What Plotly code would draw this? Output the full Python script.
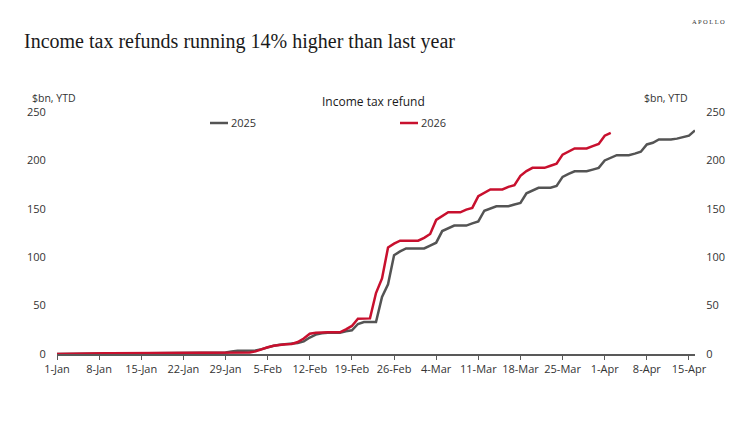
import pandas as pd
import plotly.graph_objects as go

# Cumulative income tax refunds, $bn YTD, one value per calendar day from 1-Jan
refunds_2025 = [
    0, 0.1, 0.2, 0.3, 0.4, 0.5, 0.6, 0.8, 0.8, 0.8,          # 1-Jan .. 10-Jan
    0.8, 0.8, 0.8, 0.8, 0.8, 0.8, 0.8, 0.8, 0.8, 0.8,        # .. 20-Jan
    0.8, 0.8, 0.8, 0.8, 0.8, 0.9, 1.0, 1.2, 1.5, 2.5,        # .. 30-Jan
    3.4, 3.4, 3.4, 3.6, 5, 7, 8.5, 9.6, 10, 10.3,            # .. 9-Feb
    11.4, 13, 17, 20, 21.5, 22, 22, 22, 23.5, 24.5,          # .. 19-Feb
    31, 33, 33, 33, 59, 72, 102, 106, 109, 109,              # .. 29-Feb
    109, 109, 112, 115, 127, 130, 132.7, 132.7, 132.7, 135,  # .. 10-Mar
    137, 148, 150, 152.6, 152.6, 152.6, 154.5, 156, 166, 169,  # .. 20-Mar
    171.7, 171.7, 171.7, 173.5, 183, 186, 188.8, 188.8, 188.8, 190.5,  # .. 30-Mar
    192.3, 200, 202.7, 205.4, 205.4, 205.4, 207, 209, 216.5, 218.2,  # .. 9-Apr
    221.6, 221.6, 221.6, 222.5, 224, 225.5, 231,             # .. 16-Apr
]

refunds_2026 = [
    0, 0.2, 0.3, 0.5, 0.5, 0.6, 0.7, 0.9, 0.9, 0.9,
    0.9, 0.9, 0.9, 0.9, 0.9, 0.9, 0.9, 0.9, 0.9, 0.9,
    0.9, 0.9, 0.9, 0.9, 0.9, 0.9, 0.9, 0.9, 0.9, 0.9,
    1.0, 1.0, 1.5, 2.7, 5, 7, 8.6, 9.6, 10, 10.3,
    12.4, 16, 21, 22, 22.4, 22.4, 22.4, 22.4, 25.5, 29,
    36.5, 36.8, 36.8, 63, 78, 110, 114, 117, 117, 117,
    117, 120, 124, 138.5, 142.3, 146.4, 146.4, 146.4, 149.2, 151,
    163, 166.5, 170, 170, 170, 172.7, 174.5, 184, 189, 192.3,
    192.3, 192.3, 194.5, 196.5, 206, 209.5, 212.3, 212.3, 212.3, 214.7,
    217, 225.5, 228.5,
]

# x axis labels (every 7 days, leap-year calendar as in the source chart)
tick_labels = ["1-Jan", "8-Jan", "15-Jan", "22-Jan", "29-Jan", "5-Feb", "12-Feb",
               "19-Feb", "26-Feb", "4-Mar", "11-Mar", "18-Mar", "25-Mar",
               "1-Apr", "8-Apr", "15-Apr"]
y_ticks = [0, 50, 100, 150, 200, 250]
series_names = ["2025", "2026"]

dates_2025 = pd.date_range("2024-01-01", periods=len(refunds_2025), freq="D")
dates_2026 = pd.date_range("2024-01-01", periods=len(refunds_2026), freq="D")
tick_dates = pd.date_range("2024-01-01", periods=len(tick_labels), freq="7D")

GRAY = "#545454"
RED = "#c8102e"
SANS = "Open Sans, Noto Sans, sans-serif"
AXIS_FONT = dict(family=SANS, size=11, color="#333333")
UNIT_FONT = dict(family=SANS, size=10.5, color="#333333")

# plot area in page pixels (page has an 8px body margin)
PL, PR, PT, PB = 57, 695, 112, 354
PW, PH = PR - PL, PB - PT


def px(x):
    return (x - PL) / PW


def py(y):
    return (PB - y) / PH


fig = go.Figure()
fig.add_trace(go.Scatter(x=dates_2025, y=refunds_2025, mode="lines", name=series_names[0],
                         line=dict(color=GRAY, width=2.5)))
fig.add_trace(go.Scatter(x=dates_2026, y=refunds_2026, mode="lines", name=series_names[1],
                         line=dict(color=RED, width=2.5)))
# invisible trace to carry the right-hand axis
fig.add_trace(go.Scatter(x=dates_2025, y=refunds_2025, yaxis="y2", mode="lines",
                         line=dict(width=0), showlegend=False, hoverinfo="skip"))

# legend drawn by hand: short line + label, like the source
legend_items = [(series_names[0], GRAY, 210), (series_names[1], RED, 400)]
shapes = []
annotations = []
for name, color, x0 in legend_items:
    shapes.append(dict(type="line", xref="paper", yref="paper",
                       x0=px(x0), x1=px(x0 + 18), y0=py(123), y1=py(123),
                       line=dict(color=color, width=2.5)))
    annotations.append(dict(text=name, xref="paper", yref="paper", x=px(x0 + 19), y=py(123),
                            xanchor="left", yanchor="middle", showarrow=False, font=AXIS_FONT))

annotations += [
    dict(text="Income tax refunds running 14% higher than last year",
         xref="paper", yref="paper", x=px(22), y=py(41),
         xanchor="left", yanchor="middle", showarrow=False,
         font=dict(family="Liberation Serif, serif", size=20, color="#1a1a1a")),
    dict(text="A P O L L O", xref="paper", yref="paper", x=px(727), y=py(21),
         xanchor="right", yanchor="middle", showarrow=False,
         font=dict(family="Liberation Serif, serif", size=6.5, color="#333333")),
    dict(text="Income tax refund", xref="paper", yref="paper", x=px(373), y=py(102),
         xanchor="center", yanchor="middle", showarrow=False,
         font=dict(family=SANS, size=12, color="#1a1a1a")),
    dict(text="$bn, YTD", xref="paper", yref="paper", x=px(30), y=py(98),
         xanchor="left", yanchor="middle", showarrow=False, font=UNIT_FONT),
    dict(text="$bn, YTD", xref="paper", yref="paper", x=px(690), y=py(98),
         xanchor="right", yanchor="middle", showarrow=False, font=UNIT_FONT),
]

fig.update_layout(
    width=748, height=421,
    margin=dict(l=PL - 8, r=748 + 8 - PR, t=PT - 8, b=421 + 8 - PB),
    paper_bgcolor="white", plot_bgcolor="white",
    showlegend=False,
    xaxis=dict(
        range=["2024-01-01", "2024-04-16"],
        tickvals=tick_dates, ticktext=tick_labels,
        showgrid=False, zeroline=False,
        showline=True, linecolor="#595959", linewidth=1.5,
        ticks="outside", ticklen=4, tickcolor="#595959", tickwidth=1,
        tickfont=AXIS_FONT,
    ),
    yaxis=dict(
        range=[0, 250], tickvals=y_ticks,
        showgrid=False, zeroline=False, showline=False,
        ticks="outside", ticklen=8, tickcolor="rgba(0,0,0,0)",
        tickfont=AXIS_FONT,
    ),
    yaxis2=dict(
        range=[0, 250], tickvals=y_ticks, overlaying="y", side="right",
        showgrid=False, zeroline=False, showline=False,
        ticks="outside", ticklen=8, tickcolor="rgba(0,0,0,0)",
        tickfont=AXIS_FONT,
    ),
    shapes=shapes,
    annotations=annotations,
)

fig.write_html("out.html")
